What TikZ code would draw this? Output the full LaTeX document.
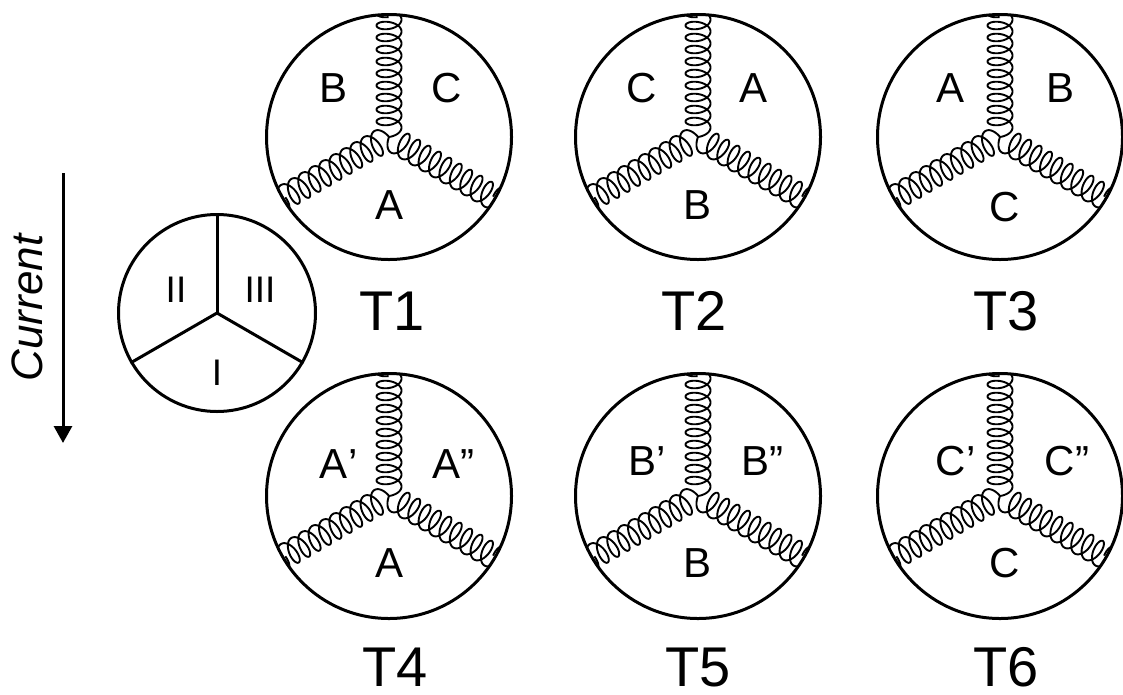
\documentclass[tikz,border=0pt]{standalone}
\usepackage{fontspec}
\setmainfont{Liberation Sans}
\usetikzlibrary{arrows.meta}

\tikzset{
  rotor/.style={draw, circle, line width=3pt, minimum size=245pt, inner sep=0pt},
  coilline/.style={line width=1.9pt, line join=round},
  phase/.style={inner sep=0pt, font=\fontsize{42}{48}\selectfont},
  tag/.style={inner sep=0pt, font=\fontsize{56}{64}\selectfont},
  sector/.style={inner sep=0pt, font=\fontsize{37}{42}\selectfont},
  key/.style={draw, circle, line width=3pt, minimum size=197pt, inner sep=0pt},
  spoke/.style={line width=3pt},
}

% coil of ten turns wound from the rotor centre outwards along direction #1 (degrees);
% \t counts turns
\newcommand\windcoil[1]{%
  \draw[coilline] plot[domain=0:10, samples=501, variable=\t]
    ({(12*\t + 6.5 - 6.5*cos(360*\t))*cos(#1) - 12.5*sin(360*\t)*sin(#1)},
     {(12*\t + 6.5 - 6.5*cos(360*\t))*sin(#1) + 12.5*sin(360*\t)*cos(#1)});
}

\begin{document}
\begin{tikzpicture}[x=1pt,y=-1pt]
\useasboundingbox (0,0) rectangle (1123,694);

% current direction
\coordinate (cur1) at (63,173);
\coordinate (cur2) at (63,443);
\draw[line width=3pt, -{Triangle[length=17pt,width=18pt]}] (cur1) -- (cur2);
\node[inner sep=0pt, rotate=90, font=\fontsize{44}{50}\selectfont\itshape] (curlbl) at (27,308) {Current};

% sector key
\node[key] (S) at (217,313) {};
\draw[spoke] (S.center) -- (S.90);
\draw[spoke] (S.center) -- (S.210);
\draw[spoke] (S.center) -- (S.330);
\node[sector] (S2) at (176,290) {II};
\node[sector] (S3) at (260,290) {III};
\node[sector] (S1) at (217,373) {I};

% rotors
\node[rotor] (T1) at (389,137) {};
\node[rotor] (T2) at (698,137) {};
\node[rotor] (T3) at (1000,137) {};
\node[rotor] (T4) at (389,496) {};
\node[rotor] (T5) at (698,496) {};
\node[rotor] (T6) at (1000,496) {};

% three coils per rotor, kept inside the rim
\foreach \r in {T1,T2,T3,T4,T5,T6}{
  \begin{scope}
    \clip (\r.center) circle (122.5);
    \begin{scope}[shift={(\r.center)}]
      \windcoil{-90}
      \windcoil{150}
      \windcoil{30}
    \end{scope}
  \end{scope}
}

% top row labels
\node[phase] (T1a) at (334,88) {B};
\node[phase] (T1b) at (447,88) {C};
\node[phase] (T1c) at (390,205) {A};
\node[phase] (T2a) at (642,88) {C};
\node[phase] (T2b) at (753,88) {A};
\node[phase] (T2c) at (697,205) {B};
\node[phase] (T3a) at (950,88) {A};
\node[phase] (T3b) at (1060,88) {B};
\node[phase] (T3c) at (1005,207) {C};

\node[tag] (T1t) at (392,311) {T1};
\node[tag] (T2t) at (694,311) {T2};
\node[tag] (T3t) at (1006,311) {T3};

% bottom row labels
\node[phase] (T4a) at (334,464) {A\rlap{'}};
\node[phase] (T4b) at (446,464) {A\rlap{''}};
\node[phase] (T4c) at (390,563) {A};
\node[phase] (T5a) at (642,461) {B\rlap{'}};
\node[phase] (T5b) at (755,461) {B\rlap{''}};
\node[phase] (T5c) at (697,563) {B};
\node[phase] (T6a) at (951,461) {C\rlap{'}};
\node[phase] (T6b) at (1060,461) {C\rlap{''}};
\node[phase] (T6c) at (1005,563) {C};

\node[tag] (T4t) at (395,667) {T4};
\node[tag] (T5t) at (698,667) {T5};
\node[tag] (T6t) at (1006,667) {T6};
\end{tikzpicture}
\end{document}
